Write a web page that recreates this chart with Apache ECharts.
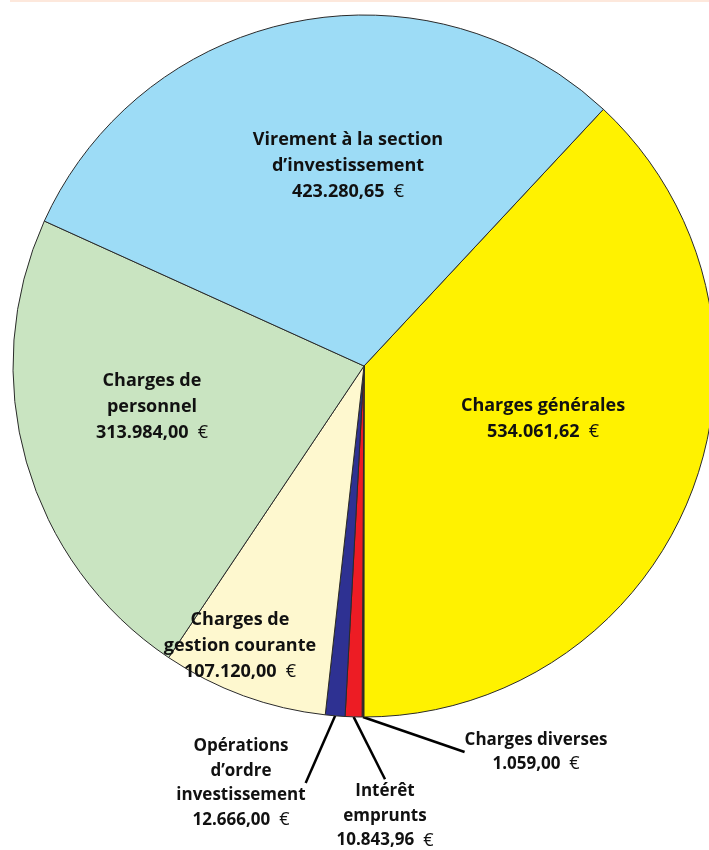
<!DOCTYPE html>
<html>
<head>
<meta charset="utf-8">
<script src="https://cdn.jsdelivr.net/npm/echarts@6/dist/echarts.min.js"></script>
<style>
  html, body { margin: 0; padding: 0; background: #fff; }
  #chart { width: 709px; height: 850px; }
</style>
</head>
<body>
<div id="chart"></div>
<script>
// slices, clockwise from the upper right
const categories = [
  "Charges générales",
  "Charges diverses",
  "Intérêt\nemprunts",
  "Opérations\nd’ordre\ninvestissement",
  "Charges de\ngestion courante",
  "Charges de\npersonnel",
  "Virement à la section\nd’investissement",
];
const amounts = [534061.62, 1059.0, 10843.96, 12666.0, 107120.0, 313984.0, 423280.65];
const sliceColors = ["#fff200", "#2b2120", "#ed1c24", "#2e3192", "#fef8cf", "#c9e4c1", "#9ddcf6"];

// label centres (px) and which labels sit outside the pie
const labelSpots = [[543, 419], [536, 752], [385, 816], [241, 783], [240, 646], [152, 407], [348, 166]];
const outside = [false, true, true, true, false, false, false];

function euro(v) {
  const [i, d] = v.toFixed(2).split(".");
  return i.replace(/\B(?=(\d{3})+(?!\d))/g, ".") + "," + d;
}

const chart = echarts.init(document.getElementById("chart"));

chart.setOption({
  animation: false,
  graphic: [{
    type: "rect", left: 10, top: 0,
    shape: { width: 699, height: 2 },
    style: { fill: "#fde8dc" }, silent: true,
  }],
  series: [{
    type: "pie",
    center: [364, 366],
    radius: 351,
    startAngle: 47,
    clockwise: true,
    avoidLabelOverlap: false,
    itemStyle: { borderColor: "#2a2a2a", borderWidth: 1 },
    data: categories.map((name, i) => ({
      name,
      value: amounts[i],
      itemStyle: { color: sliceColors[i] },
      label: outside[i]
        ? { position: "outside", fontSize: 17, lineHeight: 24.5 }
        : { position: "inside", fontSize: 18, lineHeight: 26 },
      labelLine: { show: outside[i] },
    })),
    label: {
      show: true,
      color: "#111",
      fontFamily: "Open Sans",
      fontWeight: "bold",
      formatter: (p) => p.name + "\n" + euro(p.value) + "  {e|€}",
      rich: { e: { fontWeight: "normal", fontFamily: "Open Sans", fontSize: 18, color: "#111" } },
    },
    labelLine: { length: 20, length2: 0, smooth: false, lineStyle: { color: "#000", width: 2.5 } },
    labelLayout: (params) => {
      const s = labelSpots[params.dataIndex];
      return { x: s[0], y: s[1], align: "center", verticalAlign: "middle", hideOverlap: false };
    },
  }],
});
</script>
</body>
</html>
